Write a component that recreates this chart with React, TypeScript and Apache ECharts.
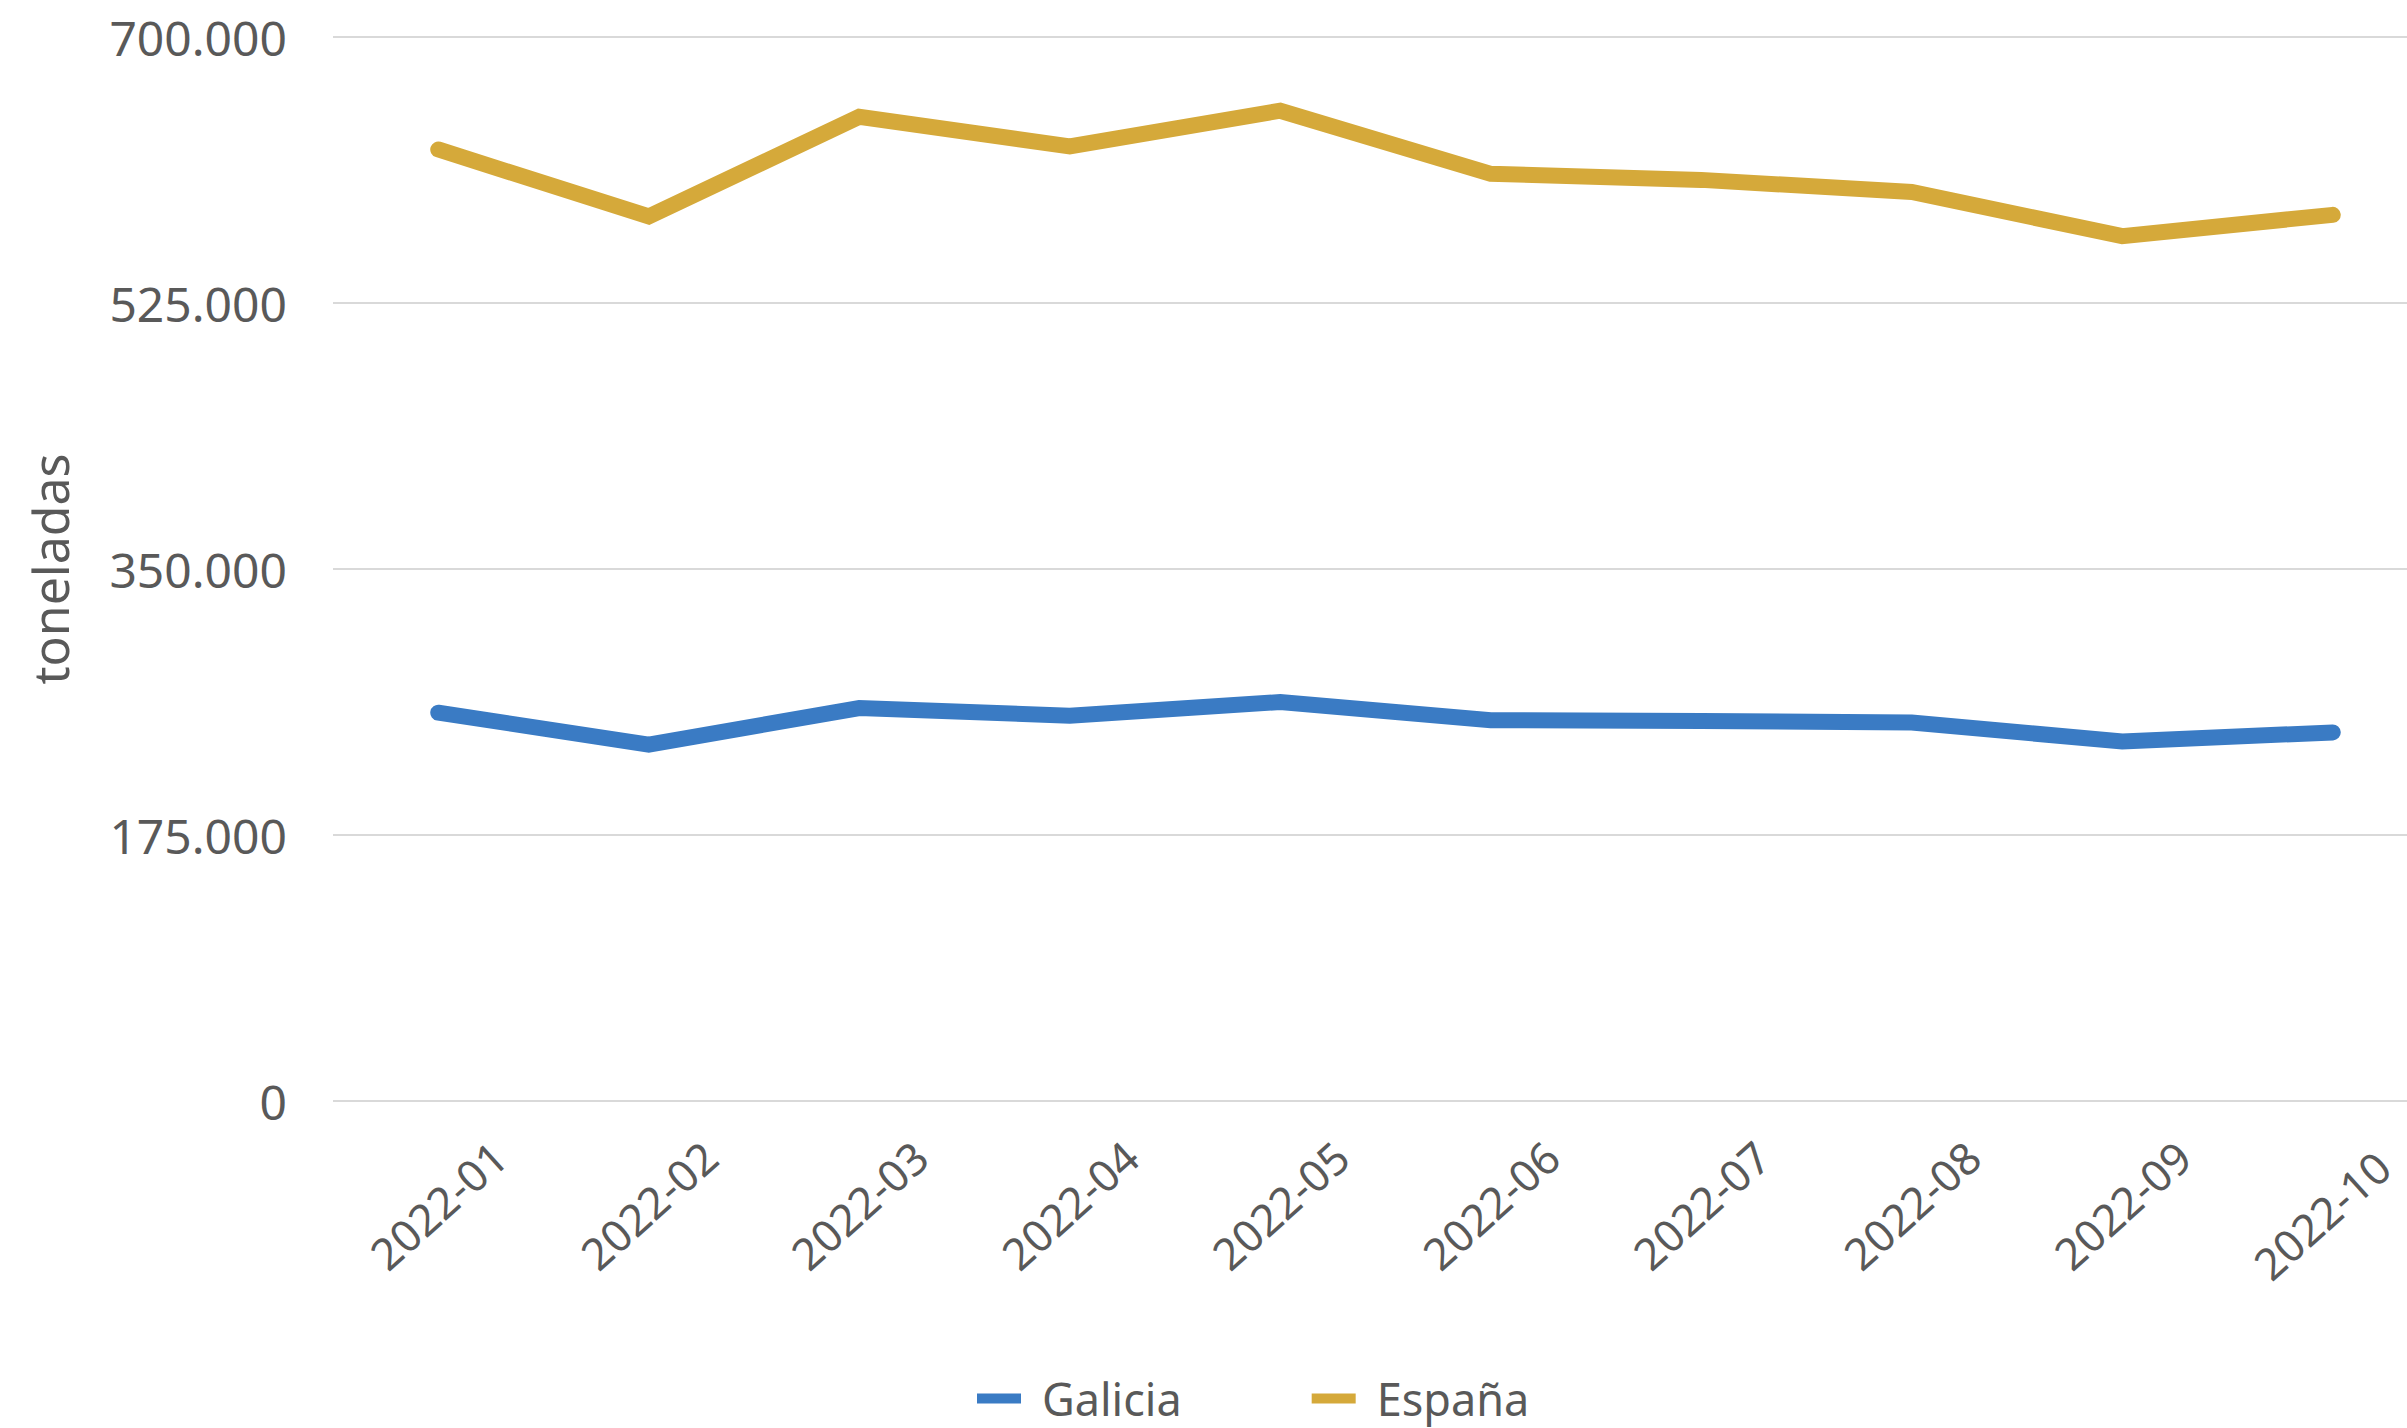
import React, { useEffect, useRef } from "react";
import * as echarts from "echarts";

const categories = ["2022-01", "2022-02", "2022-03", "2022-04", "2022-05", "2022-06", "2022-07", "2022-08", "2022-09", "2022-10"];
const galicia = [255500, 234500, 258500, 253500, 262500, 250500, 250000, 249000, 236500, 242500];
const espana = [626000, 582000, 647500, 628000, 651500, 610000, 606000, 598000, 569000, 583000];
const yTicks = [0, 175000, 350000, 525000, 700000];

const fmt = (v: number) => String(v).replace(/\B(?=(\d{3})+(?!\d))/g, ".");

export default function App() {
  const ref = useRef<HTMLDivElement>(null);
  useEffect(() => {
    if (!ref.current) return;
    const chart = echarts.init(ref.current, undefined, { renderer: "svg" });
    const font = "'Noto Sans', 'Open Sans', sans-serif";
    const textColor = "#595959";
    chart.setOption({
      animation: false,
      backgroundColor: "#ffffff",
      textStyle: { fontFamily: font },
      grid: { left: 333, right: -31, top: 37, bottom: 327, containLabel: false, outerBoundsMode: "none" },
      legend: {
        left: 972,
        top: 1371,
        itemWidth: 44,
        itemHeight: 10,
        itemGap: 130,
        icon: "rect",
        textStyle: { fontSize: 45, lineHeight: 40, color: textColor, fontFamily: font, padding: [0, 0, 0, 16] },
        data: ["Galicia", "España"],
      },
      xAxis: {
        type: "category",
        data: categories,
        boundaryGap: true,
        axisLine: { show: false },
        axisTick: { show: false },
        axisLabel: {
          interval: 0,
          rotate: 42,
          margin: 104,
          align: "center",
          verticalAlign: "middle",
          fontSize: 44,
          color: textColor,
          fontFamily: font,
          formatter: (v: string, i: number) => (i === categories.length - 1 ? "{last|" + v + "}" : v),
          rich: { last: { fontSize: 44, color: textColor, fontFamily: font, padding: [0, 30, 0, 0] } },
        },
      },
      yAxis: {
        type: "value",
        min: yTicks[0],
        max: yTicks[yTicks.length - 1],
        interval: 175000,
        name: "toneladas",
        nameLocation: "middle",
        nameGap: 258,
        nameTextStyle: { fontSize: 50, color: textColor, fontFamily: font },
        axisLine: { show: false },
        axisTick: { show: false },
        axisLabel: { margin: 46, fontSize: 48, color: textColor, fontFamily: font, formatter: (v: number) => fmt(v) },
        splitLine: { show: true, lineStyle: { color: "#D9D9D9", width: 2 } },
      },
      series: [
        {
          name: "Galicia",
          type: "line",
          data: galicia,
          showSymbol: false,
          symbol: "none",
          color: "#3A7BC4",
          lineStyle: { width: 16, color: "#3A7BC4", cap: "round", join: "miter" },
        },
        {
          name: "España",
          type: "line",
          data: espana,
          showSymbol: false,
          symbol: "none",
          color: "#D5A93A",
          lineStyle: { width: 16, color: "#D5A93A", cap: "round", join: "miter" },
        },
      ],
    });
    return () => chart.dispose();
  }, []);
  return <div ref={ref} style={{ position: "absolute", left: 0, top: 0, width: 2407, height: 1428 }} />;
}
